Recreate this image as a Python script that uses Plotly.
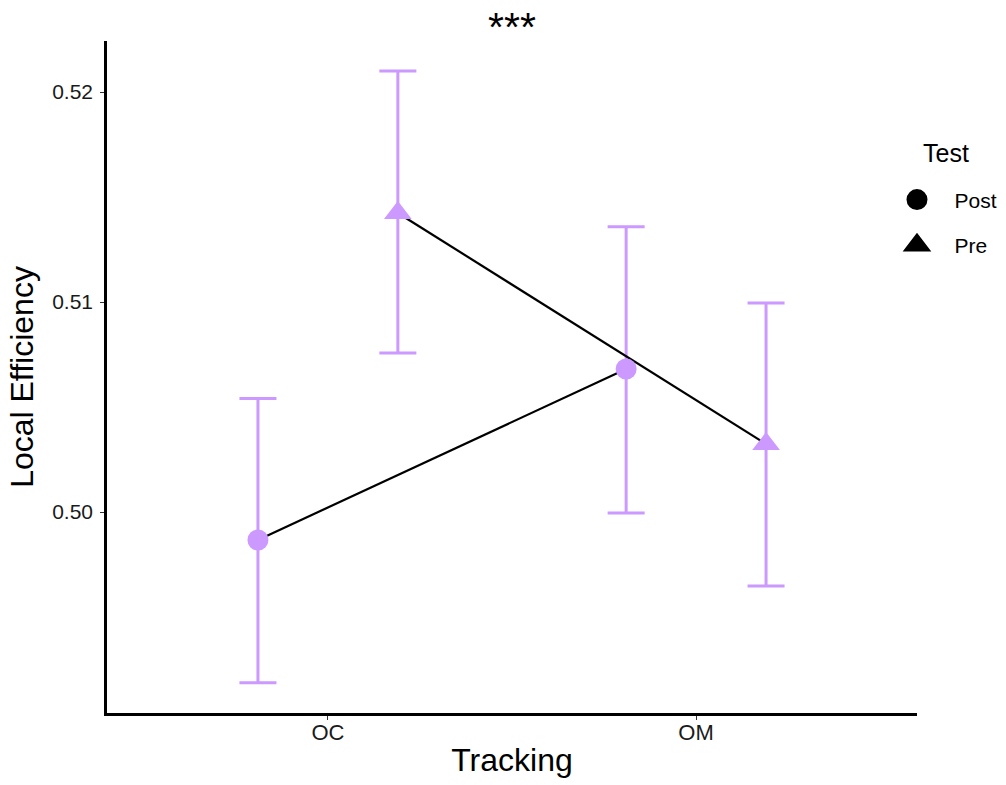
import plotly.graph_objects as go

# ---- data ----
tracking = ["OC", "OM"]
tests = ["Post", "Pre"]
post_mean = [0.49867, 0.50681]
post_lo = [0.49187, 0.49995]
post_hi = [0.50541, 0.51359]
pre_mean = [0.51424, 0.50324]
pre_lo = [0.50757, 0.49648]
pre_hi = [0.52100, 0.50995]
y_ticks = [0.50, 0.51, 0.52]

dodge = 0.19
purple = "#CC99FF"
font_family = "Arial, Liberation Sans, sans-serif"

base_x = [i + 1 for i in range(len(tracking))]
post_x = [b - dodge for b in base_x]
pre_x = [b + dodge for b in base_x]

fig = go.Figure()

series = [
    ("Post", post_x, post_mean, post_lo, post_hi, "circle", 21),
    ("Pre", pre_x, pre_mean, pre_lo, pre_hi, "triangle-up", 24),
]

# error bars
for name, xs, m, lo, hi, sym, sz in series:
    fig.add_trace(go.Scatter(
        x=xs, y=m, mode="markers", marker=dict(size=1, opacity=0),
        error_y=dict(type="data", symmetric=False,
                     array=[h - v for h, v in zip(hi, m)],
                     arrayminus=[v - l for v, l in zip(m, lo)],
                     color=purple, thickness=3, width=18.5),
        showlegend=False, hoverinfo="skip"))

# lines
for name, xs, m, lo, hi, sym, sz in series:
    fig.add_trace(go.Scatter(
        x=xs, y=m, mode="lines", line=dict(color="black", width=2.2),
        showlegend=False, hoverinfo="skip"))

# points
for name, xs, m, lo, hi, sym, sz in series:
    fig.add_trace(go.Scatter(
        x=xs, y=m, mode="markers",
        marker=dict(symbol=sym, size=sz, color=purple, line=dict(width=0)),
        showlegend=False, name=name))

# legend entries (black keys)
for i, (name, xs, m, lo, hi, sym, sz) in enumerate(series):
    fig.add_trace(go.Scatter(
        x=[None], y=[None], mode="markers", name="&nbsp;&nbsp;&nbsp;" + name,
        marker=dict(symbol=sym, size=16, color="black",
                    line=dict(color="black", width=5)),
        legendgroup=name, showlegend=True))

fig.update_layout(
    width=1006, height=785,
    margin=dict(l=107, r=89, t=41, b=72, autoexpand=False),
    paper_bgcolor="white", plot_bgcolor="white",
    font=dict(family=font_family, color="black"),
    title=dict(text="***", x=0.5, xref="paper", xanchor="center",
               yref="container", y=0.966, yanchor="middle",
               font=dict(size=41, color="black")),
    legend=dict(font=dict(size=21), x=0.9753, xanchor="left", y=0.794,
                yanchor="top", tracegroupgap=15, traceorder="grouped",
                bgcolor="rgba(0,0,0,0)"),
    annotations=[dict(text="Test", xref="paper", yref="paper", x=1.005,
                      y=0.833, xanchor="left", yanchor="middle",
                      showarrow=False, font=dict(size=25, color="black"))],
    xaxis=dict(range=[0.4, 2.6], tickmode="array", tickvals=base_x,
               ticktext=tracking, showgrid=False, zeroline=False,
               showline=True, linecolor="black", linewidth=2.5,
               ticks="outside", ticklen=4, tickcolor="#333333",
               ticklabelstandoff=-6,
               tickfont=dict(size=22, color="#1a1a1a"),
               title=dict(text="Tracking", font=dict(size=32), standoff=5)),
    yaxis=dict(range=[0.49043, 0.52243], tickmode="array", tickvals=y_ticks,
               ticktext=[f"{v:.2f}" for v in y_ticks], showgrid=False,
               zeroline=False, showline=True, linecolor="black", linewidth=2.5,
               ticks="outside", ticklen=4, tickcolor="#333333",
               ticklabelstandoff=3,
               tickfont=dict(size=21, color="#1a1a1a"),
               title=dict(text="Local Efficiency", font=dict(size=32), standoff=9)),
)

fig.write_html("out.html")
